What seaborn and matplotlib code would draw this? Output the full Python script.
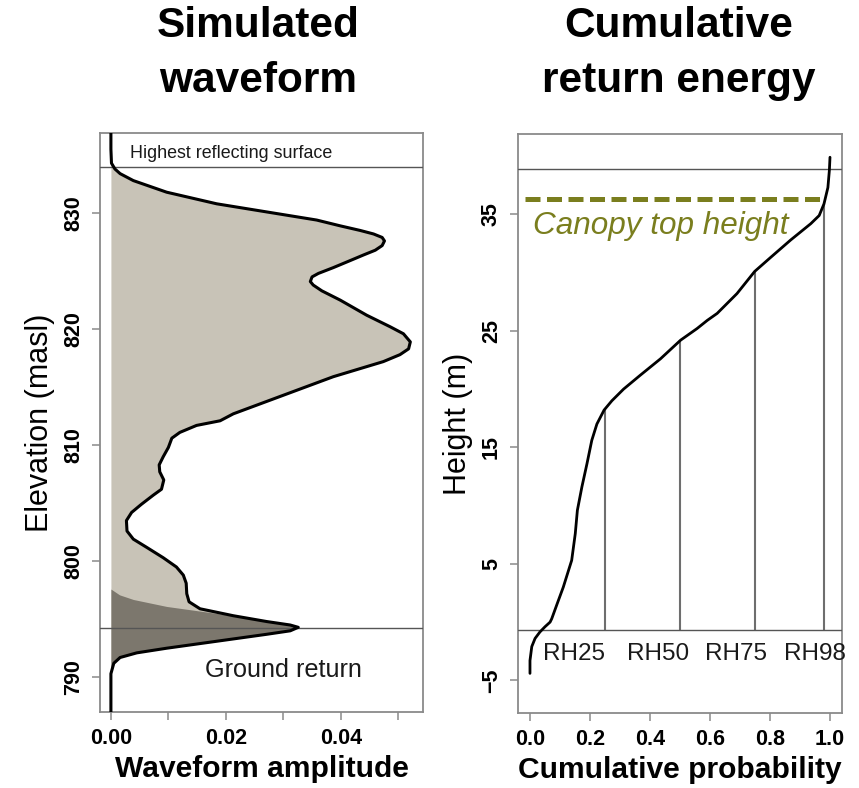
import matplotlib
matplotlib.use("Agg")
import matplotlib.pyplot as plt
import seaborn as sns
import pandas as pd

# ---- Simulated waveform (elevation in m a.s.l., amplitude) ----
wave_elev = [836.9, 835.5, 834.3, 833.8, 833.4, 832.8, 832.3, 831.8, 830.8, 830.1,
             829.4, 828.9, 828.5, 828.2, 827.9, 827.6, 827.2, 826.8, 826.4, 825.9,
             825.3, 824.8, 824.5, 824.1, 823.8, 823.3, 822.5, 821.2, 820.2, 819.6,
             818.9, 818.3, 817.8, 817.2, 815.9, 814.3, 812.7, 812.1, 811.7, 811.1,
             810.6, 809.8, 809.0, 808.3, 807.7, 807.0, 806.2, 805.7, 804.9, 804.2,
             803.5, 802.6, 801.9, 801.2, 800.3, 799.5, 798.8, 798.1, 797.2, 796.5,
             795.9, 795.3, 794.8, 794.5, 794.3, 794.0, 793.7, 793.1, 792.5, 792.1,
             791.7, 791.2, 790.3, 787.0]
wave_amp = [0.0000, 0.0000, 0.0001, 0.0007, 0.0016, 0.0039, 0.0068, 0.0097, 0.0184, 0.0271,
            0.0358, 0.0399, 0.0434, 0.0457, 0.0472, 0.0476, 0.0472, 0.0460, 0.0440, 0.0416,
            0.0387, 0.0361, 0.0350, 0.0347, 0.0352, 0.0367, 0.0399, 0.0445, 0.0486, 0.0509,
            0.0521, 0.0518, 0.0503, 0.0474, 0.0387, 0.0300, 0.0213, 0.0190, 0.0149, 0.0120,
            0.0106, 0.0100, 0.0091, 0.0084, 0.0085, 0.0092, 0.0088, 0.0074, 0.0053, 0.0036,
            0.0027, 0.0028, 0.0039, 0.0062, 0.0091, 0.0114, 0.0126, 0.0131, 0.0132, 0.0136,
            0.0155, 0.0213, 0.0271, 0.0312, 0.0326, 0.0312, 0.0271, 0.0184, 0.0097, 0.0045,
            0.0016, 0.0005, 0.0000, 0.0000]

# ground-return component of the waveform
ground_elev = [797.6, 797.1, 796.7, 796.1, 795.7, 795.3, 794.8, 794.5, 794.3, 794.0,
               793.7, 793.1, 792.5, 792.1, 791.7, 791.2, 790.3]
ground_amp = [0.0000, 0.0015, 0.0039, 0.0097, 0.0155, 0.0213, 0.0271, 0.0312, 0.0326, 0.0312,
              0.0271, 0.0184, 0.0097, 0.0045, 0.0016, 0.0005, 0.0000]

highest_surface = 834.0
ground_level = 794.2

# ---- Cumulative return energy (height above ground, cumulative probability) ----
cum_prob = [0.0, 0.0, 0.006, 0.017, 0.033, 0.05, 0.067, 0.0725, 0.091, 0.111,
            0.139, 0.151, 0.158, 0.173, 0.190, 0.206, 0.223, 0.247, 0.273, 0.312,
            0.368, 0.435, 0.502, 0.557, 0.591, 0.624, 0.69, 0.749, 0.802, 0.869,
            0.936, 0.964, 0.98, 0.993, 0.998, 1.0]
cum_height = [-4.4, -3.3, -2.1, -1.4, -0.85, -0.4, 0.0, 0.29, 1.6, 3.0,
              5.3, 7.6, 9.6, 11.6, 13.6, 15.6, 17.0, 18.2, 19.0, 20.0,
              21.2, 22.6, 24.2, 25.2, 25.9, 26.5, 28.2, 30.1, 31.3, 32.8,
              34.2, 34.9, 35.9, 37.3, 38.8, 39.9]

rh_names = ["RH25", "RH50", "RH75", "RH98"]
rh_prob = [0.25, 0.50, 0.75, 0.98]
rh_height = [18.3, 24.2, 30.1, 35.9]
rh_label_x = [0.147, 0.426, 0.688, 0.949]

top_line_h = 38.9
ground_line_h = -0.7
canopy_top = 36.3

sns.set_style("white")
plt.rcParams["font.family"] = ["Liberation Sans", "DejaVu Sans"]
plt.rcParams["axes.unicode_minus"] = True
plt.rcParams["text.color"] = "black"
plt.rcParams["axes.labelcolor"] = "black"

frame_col = "#8a8a8a"
light_fill = "#c8c3b7"
dark_fill = "#7c776d"
olive = "#7a7e1e"

fig = plt.figure(figsize=(8.59, 7.88), dpi=100)
ax1 = fig.add_axes([0.1164, 0.0964, 0.3760, 0.7348])
ax2 = fig.add_axes([0.6030, 0.0952, 0.3772, 0.7348])

# ---------------- left panel ----------------
ax1.fill_betweenx(wave_elev, 0, wave_amp, color=light_fill, lw=0, zorder=1)
ax1.fill_betweenx(ground_elev, 0, ground_amp, color=dark_fill, lw=0, zorder=2)
wave_df = pd.DataFrame({"amp": wave_amp, "elev": wave_elev})
sns.lineplot(data=wave_df, x="amp", y="elev", sort=False, estimator=None,
             color="black", lw=2.2, solid_joinstyle="round", ax=ax1, zorder=4)
ax1.axhline(highest_surface, color="#555555", lw=1.0, zorder=3)
ax1.axhline(ground_level, color="#555555", lw=1.0, zorder=3)
ax1.text(0.0209, 835.1, "Highest reflecting surface", fontsize=12.9,
         ha="center", va="center", color="#1a1a1a")
ax1.text(0.0300, 790.6, "Ground return", fontsize=18.2, ha="center", va="center",
         color="#1a1a1a")

ax1.set_xlim(-0.0019, 0.0543)
ax1.set_ylim(787.0, 836.9)
ax1.set_xticks([0.0, 0.01, 0.02, 0.03, 0.04, 0.05])
ax1.set_xticklabels(["0.00", "", "0.02", "", "0.04", ""])
ax1.set_yticks([790, 800, 810, 820, 830])
ax1.set_yticklabels(["790", "800", "810", "820", "830"], rotation=90, va="center")
ax1.set_xlabel("Waveform amplitude", fontsize=21.6, fontweight="bold", labelpad=4)
ax1.set_ylabel("Elevation (masl)", fontsize=22, labelpad=6)

# ---------------- right panel ----------------
ax2.axhline(top_line_h, color="#555555", lw=1.0, zorder=3)
ax2.axhline(ground_line_h, color="#555555", lw=1.0, zorder=3)
ax2.vlines(rh_prob, ground_line_h, rh_height, color="#6e6e6e", lw=1.5, zorder=2)
cum_df = pd.DataFrame({"p": cum_prob, "h": cum_height})
sns.lineplot(data=cum_df, x="p", y="h", sort=False, estimator=None,
             color="black", lw=2.0, solid_joinstyle="round", ax=ax2, zorder=4)
ct = ax2.plot([-0.015, 0.985], [canopy_top, canopy_top], color=olive, lw=3.6,
              zorder=5)[0]
ct.set_dashes((3.0, 1.3))
ct.set_dash_capstyle("butt")
ax2.text(0.010, 34.0, "Canopy top height", fontsize=22.7, style="italic",
         color=olive, ha="left", va="center")
for name, xpos in zip(rh_names, rh_label_x):
    ax2.text(xpos, -2.7, name, fontsize=17.5, ha="center", va="center",
             color="#1a1a1a")

ax2.set_xlim(-0.04, 1.04)
ax2.set_ylim(-7.8, 41.9)
ax2.set_xticks([0.0, 0.2, 0.4, 0.6, 0.8, 1.0])
ax2.set_xticklabels(["0.0", "0.2", "0.4", "0.6", "0.8", "1.0"])
ax2.set_yticks([-5, 5, 15, 25, 35])
ax2.set_yticklabels(["\u22125", "5", "15", "25", "35"], rotation=90, va="center")
ax2.set_xlabel("Cumulative probability", fontsize=21.6, fontweight="bold", labelpad=4)
ax2.set_ylabel("Height (m)", fontsize=22, labelpad=6)

for ax in (ax1, ax2):
    for sp in ax.spines.values():
        sp.set_color(frame_col)
        sp.set_linewidth(1.3)
    ax.tick_params(axis="both", direction="out", length=5.5, width=1.1,
                   color=frame_col, labelcolor="black", labelsize=15.5, pad=6,
                   bottom=True, left=True)
    for lab in ax.get_xticklabels() + ax.get_yticklabels():
        lab.set_fontweight("bold")
    ax.grid(False)

# panel titles
for xc, lines in ((258, ["Simulated", "waveform"]),
                  (679, ["Cumulative", "return energy"])):
    fig.text(xc / 859, 1 - 37 / 788, lines[0], fontsize=30.5, fontweight="bold",
             ha="center", va="baseline")
    fig.text(xc / 859, 1 - 92 / 788, lines[1], fontsize=30.5, fontweight="bold",
             ha="center", va="baseline")

fig.savefig("out.png", dpi=100)
